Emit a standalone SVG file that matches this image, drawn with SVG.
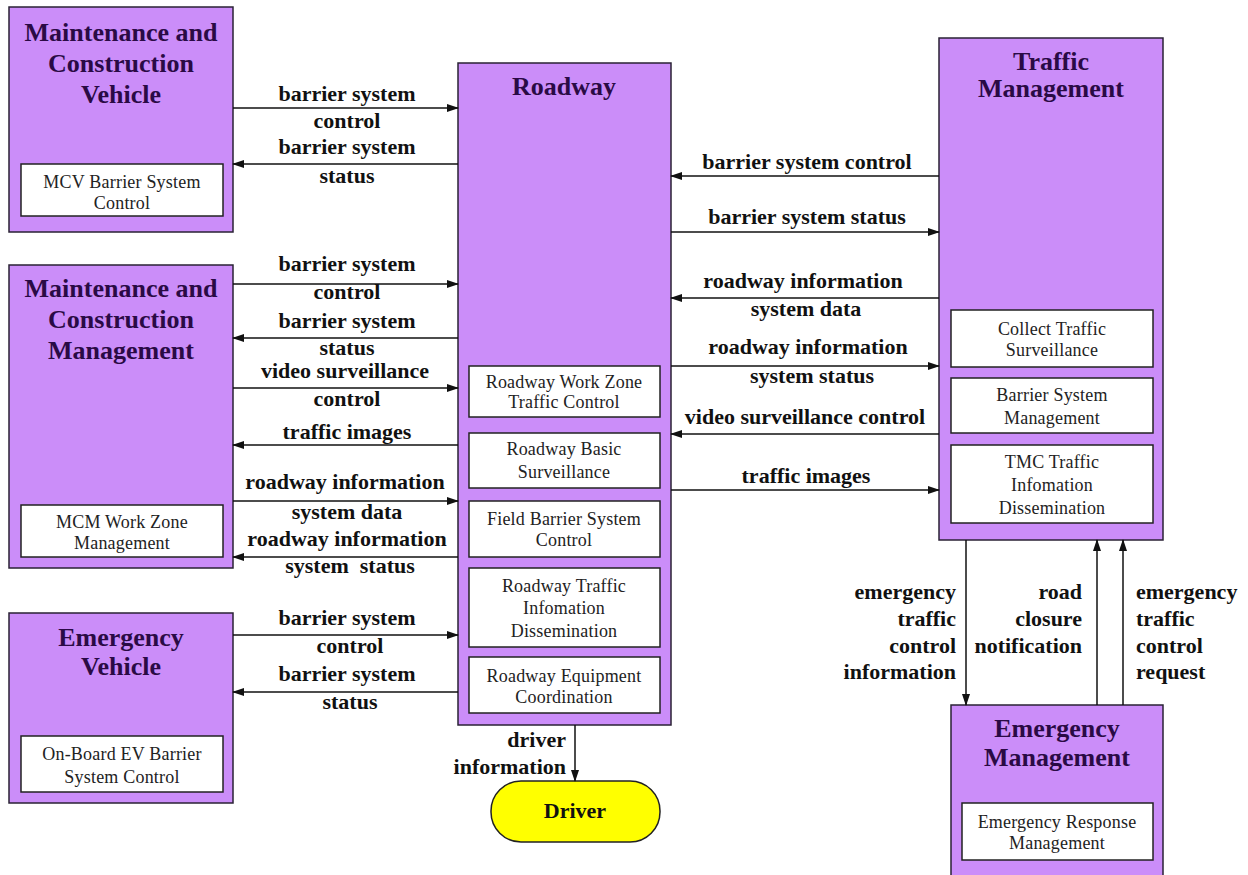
<svg xmlns="http://www.w3.org/2000/svg" width="1248" height="875" viewBox="0 0 1248 875">
<style>
.box{fill:#CB8DF9;stroke:#2a2235;stroke-width:1.5}
.sub{fill:#ffffff;stroke:#222;stroke-width:1.5}
.title{font-family:"Liberation Serif","Times New Roman",serif;font-weight:bold;font-size:26px;fill:#2a0a45;text-anchor:middle}
.st{font-family:"Liberation Serif","Times New Roman",serif;font-size:18px;fill:#222;text-anchor:middle;letter-spacing:0.2px}
.lbl{font-family:"Liberation Serif","Times New Roman",serif;font-weight:bold;font-size:22px;fill:#111;text-anchor:middle}
.end{text-anchor:end}
.start{text-anchor:start}
.ln{stroke:#111;stroke-width:1.5;fill:none;marker-end:url(#ah)}
</style>
<defs>
<marker id="ah" markerUnits="userSpaceOnUse" markerWidth="12" markerHeight="10" refX="11" refY="5" orient="auto">
<path d="M0,1 L12,5 L0,9 Z" fill="#111"/>
</marker>
</defs>
<rect width="1248" height="875" fill="#ffffff"/>

<g id="mcv">
<rect class="box" x="9" y="7" width="224" height="225"/>
<text class="title" x="121" y="41">Maintenance and</text>
<text class="title" x="121" y="72">Construction</text>
<text class="title" x="121" y="103">Vehicle</text>
<rect class="sub" x="21" y="164" width="202" height="52"/>
<text class="st" x="122" y="188">MCV Barrier System</text>
<text class="st" x="122" y="209">Control</text>
</g>

<g id="mcm">
<rect class="box" x="9" y="265" width="224" height="303"/>
<text class="title" x="121" y="297">Maintenance and</text>
<text class="title" x="121" y="328">Construction</text>
<text class="title" x="121" y="359">Management</text>
<rect class="sub" x="21" y="505" width="202" height="52"/>
<text class="st" x="122" y="528">MCM Work Zone</text>
<text class="st" x="122" y="549">Management</text>
</g>

<g id="ev">
<rect class="box" x="9" y="613" width="224" height="190"/>
<text class="title" x="121" y="646">Emergency</text>
<text class="title" x="121" y="675">Vehicle</text>
<rect class="sub" x="21" y="736" width="202" height="56"/>
<text class="st" x="122" y="760">On-Board EV Barrier</text>
<text class="st" x="122" y="783">System Control</text>
</g>

<g id="roadway">
<rect class="box" x="458" y="63" width="213" height="662"/>
<text class="title" x="564" y="95">Roadway</text>
<rect class="sub" x="469" y="366" width="191" height="51"/>
<text class="st" x="564" y="388">Roadway Work Zone</text>
<text class="st" x="564" y="408">Traffic Control</text>
<rect class="sub" x="469" y="433" width="191" height="55"/>
<text class="st" x="564" y="455">Roadway Basic</text>
<text class="st" x="564" y="478">Surveillance</text>
<rect class="sub" x="469" y="501" width="191" height="56"/>
<text class="st" x="564" y="525">Field Barrier System</text>
<text class="st" x="564" y="546">Control</text>
<rect class="sub" x="469" y="568" width="191" height="79"/>
<text class="st" x="564" y="592">Roadway Traffic</text>
<text class="st" x="564" y="614">Infomation</text>
<text class="st" x="564" y="637">Dissemination</text>
<rect class="sub" x="469" y="657" width="191" height="56"/>
<text class="st" x="564" y="682">Roadway Equipment</text>
<text class="st" x="564" y="703">Coordination</text>
</g>

<g id="tm">
<rect class="box" x="939" y="38" width="224" height="502"/>
<text class="title" x="1051" y="70">Traffic</text>
<text class="title" x="1051" y="97">Management</text>
<rect class="sub" x="951" y="310" width="202" height="57"/>
<text class="st" x="1052" y="335">Collect Traffic</text>
<text class="st" x="1052" y="356">Surveillance</text>
<rect class="sub" x="951" y="378" width="202" height="55"/>
<text class="st" x="1052" y="401">Barrier System</text>
<text class="st" x="1052" y="424">Management</text>
<rect class="sub" x="951" y="445" width="202" height="78"/>
<text class="st" x="1052" y="468">TMC Traffic</text>
<text class="st" x="1052" y="491">Infomation</text>
<text class="st" x="1052" y="514">Dissemination</text>
</g>

<g id="em">
<rect class="box" x="951" y="705" width="212" height="174"/>
<text class="title" x="1057" y="737">Emergency</text>
<text class="title" x="1057" y="766">Management</text>
<rect class="sub" x="962" y="803" width="191" height="57"/>
<text class="st" x="1057" y="828">Emergency Response</text>
<text class="st" x="1057" y="849">Management</text>
</g>

<g id="driver">
<rect x="491" y="781" width="169" height="61" rx="30" ry="30" fill="#FFFF00" stroke="#222" stroke-width="1.5"/>
<text class="lbl" x="575" y="818">Driver</text>
</g>

<g id="connectors">
<line class="ln" x1="233" y1="108" x2="458" y2="108"/>
<line class="ln" x1="458" y1="164" x2="233" y2="164"/>
<line class="ln" x1="233" y1="284" x2="458" y2="284"/>
<line class="ln" x1="458" y1="338" x2="233" y2="338"/>
<line class="ln" x1="233" y1="388" x2="458" y2="388"/>
<line class="ln" x1="458" y1="445" x2="233" y2="445"/>
<line class="ln" x1="233" y1="501" x2="458" y2="501"/>
<line class="ln" x1="458" y1="557" x2="233" y2="557"/>
<line class="ln" x1="233" y1="635" x2="458" y2="635"/>
<line class="ln" x1="458" y1="692" x2="233" y2="692"/>
<line class="ln" x1="939" y1="176" x2="671" y2="176"/>
<line class="ln" x1="671" y1="232" x2="939" y2="232"/>
<line class="ln" x1="939" y1="298" x2="671" y2="298"/>
<line class="ln" x1="671" y1="366" x2="939" y2="366"/>
<line class="ln" x1="939" y1="434" x2="671" y2="434"/>
<line class="ln" x1="671" y1="490" x2="939" y2="490"/>
<line class="ln" x1="575" y1="725" x2="575" y2="781"/>
<line class="ln" x1="966" y1="540" x2="966" y2="705"/>
<line class="ln" x1="1097" y1="705" x2="1097" y2="540"/>
<line class="ln" x1="1123" y1="705" x2="1123" y2="540"/>

<text class="lbl" x="347" y="101">barrier system</text>
<text class="lbl" x="347" y="128">control</text>
<text class="lbl" x="347" y="154">barrier system</text>
<text class="lbl" x="347" y="183">status</text>

<text class="lbl" x="347" y="271">barrier system</text>
<text class="lbl" x="347" y="299">control</text>
<text class="lbl" x="347" y="328">barrier system</text>
<text class="lbl" x="347" y="355">status</text>
<text class="lbl" x="345" y="378">video surveillance</text>
<text class="lbl" x="347" y="406">control</text>
<text class="lbl" x="347" y="439">traffic images</text>
<text class="lbl" x="345" y="489">roadway information</text>
<text class="lbl" x="347" y="519">system data</text>
<text class="lbl" x="347" y="546">roadway information</text>
<text class="lbl" x="350" y="573" xml:space="preserve">system  status</text>

<text class="lbl" x="347" y="625">barrier system</text>
<text class="lbl" x="350" y="653">control</text>
<text class="lbl" x="347" y="681">barrier system</text>
<text class="lbl" x="350" y="709">status</text>

<text class="lbl" x="807" y="169">barrier system control</text>
<text class="lbl" x="807" y="224">barrier system status</text>
<text class="lbl" x="803" y="288">roadway information</text>
<text class="lbl" x="806" y="316">system data</text>
<text class="lbl" x="808" y="354">roadway information</text>
<text class="lbl" x="812" y="383">system status</text>
<text class="lbl" x="805" y="424">video surveillance control</text>
<text class="lbl" x="806" y="483">traffic images</text>

<text class="lbl end" x="566" y="747">driver</text>
<text class="lbl end" x="566" y="774">information</text>

<text class="lbl end" x="956" y="599">emergency</text>
<text class="lbl end" x="956" y="626">traffic</text>
<text class="lbl end" x="956" y="653">control</text>
<text class="lbl end" x="956" y="679">information</text>
<text class="lbl end" x="1082" y="599">road</text>
<text class="lbl end" x="1082" y="626">closure</text>
<text class="lbl end" x="1082" y="653">notification</text>
<text class="lbl start" x="1136" y="599">emergency</text>
<text class="lbl start" x="1136" y="626">traffic</text>
<text class="lbl start" x="1136" y="653">control</text>
<text class="lbl start" x="1136" y="679">request</text>
</g>
</svg>
